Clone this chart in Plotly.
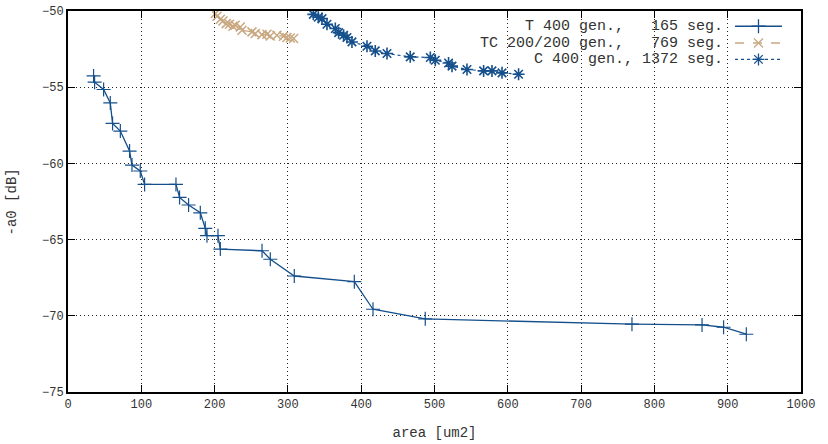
import plotly.graph_objects as go

# ---- data ----
t_area = [34.9, 36.3, 48.6, 57.7, 60.8, 71.4, 84.0, 87.3, 98.6, 104.5, 147.3, 152.2,
          164.5, 180.5, 187.3, 189.6, 204.6, 207.8, 264.7, 276.0, 308.7, 390.6, 416.1,
          487.4, 769.4, 865.0, 894.4, 925.4]
t_db = [-54.26, -54.67, -55.15, -56.03, -57.38, -57.88, -59.19, -60.11, -60.50, -61.38,
        -61.38, -62.23, -62.73, -63.24, -64.26, -64.74, -64.74, -65.62, -65.73, -66.29,
        -67.39, -67.76, -69.57, -70.20, -70.55, -70.60, -70.75, -71.21]

tc_area = [201.0, 203.3, 207.8, 211.4, 215.9, 220.4, 225.0, 228.1, 235.0, 237.4,
           251.0, 255.5, 264.5, 271.4, 275.9, 285.0, 294.0, 298.6, 303.2, 307.8]
tc_db = [-50.17, -50.35, -50.54, -50.65, -50.83, -50.87, -51.00, -50.94, -51.05, -51.26,
         -51.37, -51.48, -51.55, -51.53, -51.64, -51.59, -51.66, -51.74, -51.77, -51.81]

c_area = [334.7, 341.5, 346.5, 353.3, 364.7, 369.2, 376.0, 380.6, 387.4, 407.9, 419.2,
          435.2, 466.9, 494.3, 501.1, 519.2, 523.9, 544.3, 567.0, 578.4, 592.1, 614.7]
c_db = [-50.22, -50.41, -50.50, -50.87, -51.15, -51.42, -51.59, -51.74, -52.03, -52.31,
        -52.62, -52.79, -53.01, -53.05, -53.23, -53.41, -53.62, -53.84, -53.93, -53.93,
        -54.06, -54.15]

x_ticks = [0, 100, 200, 300, 400, 500, 600, 700, 800, 900, 1000]
y_ticks = [-75, -70, -65, -60, -55, -50]

labels = ["T 400 gen.,   165 seg.", "TC 200/200 gen.,   769 seg.", "C 400 gen., 1372 seg."]

BLUE = "#15508c"
TAN = "#c9a882"
FONT = "Liberation Mono"

fig = go.Figure()

fig.add_trace(go.Scatter(
    x=t_area, y=t_db, mode="lines+markers",
    line=dict(color=BLUE, width=1.3),
    marker=dict(symbol="cross-thin-open", size=10, color=BLUE, line=dict(color=BLUE, width=1.2)),
    showlegend=False))
fig.add_trace(go.Scatter(
    x=tc_area, y=tc_db, mode="lines+markers",
    line=dict(color=TAN, width=1.2, dash="dash"),
    marker=dict(symbol="x-thin-open", size=9, color=TAN, line=dict(color=TAN, width=1.5)),
    showlegend=False))
fig.add_trace(go.Scatter(
    x=c_area, y=c_db, mode="lines+markers",
    line=dict(color=BLUE, width=1.2, dash="dot"),
    marker=dict(symbol="asterisk-open", size=10, color=BLUE, line=dict(color=BLUE, width=1.6)),
    showlegend=False))

# ---- legend samples, drawn on an overlay axis in [0,1] ----
styles = [
    (BLUE, "solid", "cross-thin-open", 10),
    (TAN, "dash", "x-thin-open", 9),
    (BLUE, "dot", "asterisk-open", 10),
]
rows = [0.960, 0.916, 0.873]
for (col, dash, sym, sz), yy, lab in zip(styles, rows, labels):
    fig.add_trace(go.Scatter(
        x=[0.910, 0.974], y=[yy, yy], xaxis="x2", yaxis="y2", mode="lines",
        line=dict(color=col, width=1.3, dash=dash),
        showlegend=False, hoverinfo="skip"))
    fig.add_trace(go.Scatter(
        x=[0.942], y=[yy], xaxis="x2", yaxis="y2", mode="markers",
        marker=dict(symbol=sym, size=sz, color=col, line=dict(color=col, width=1.3)),
        showlegend=False, hoverinfo="skip"))
    fig.add_annotation(
        x=0.896, y=yy, xref="paper", yref="paper", xanchor="right", yanchor="middle",
        text=lab.replace(" ", "\u00a0"), showarrow=False,
        font=dict(family=FONT, size=15, color="#333333"))

# y axis title as rotated text
fig.add_annotation(
    x=-0.0764, y=0.5, xref="paper", yref="paper", xanchor="center", yanchor="middle",
    text="-a0 [dB]", textangle=-90, showarrow=False,
    font=dict(family=FONT, size=14, color="#333333"))

axis_common = dict(
    showline=True, linecolor="black", linewidth=2, mirror="ticks",
    ticks="inside", ticklen=7, tickcolor="black", tickwidth=1,
    showgrid=True, gridcolor="#222222", gridwidth=1, griddash="1px,3px",
    zeroline=False, automargin=False, ticklabeloverflow="allow",
    tickfont=dict(family=FONT, size=12, color="#333333"),
)

fig.update_layout(
    width=828, height=444,
    margin=dict(l=68, r=27, t=11, b=52),
    paper_bgcolor="white", plot_bgcolor="white",
    xaxis=dict(range=[0, 1000], tickvals=x_ticks, **axis_common,
               title=dict(text="area [um2]", font=dict(family=FONT, size=14, color="#333333"),
                          standoff=16)),
    yaxis=dict(range=[-75, -50], tickvals=y_ticks, **axis_common),
    xaxis2=dict(range=[0, 1], overlaying="x", visible=False, fixedrange=True),
    yaxis2=dict(range=[0, 1], overlaying="y", visible=False, fixedrange=True),
    showlegend=False,
    hovermode=False,
)

fig.write_html("out.html", config={"displayModeBar": False},
               post_script="document.body.style.margin='0';")
